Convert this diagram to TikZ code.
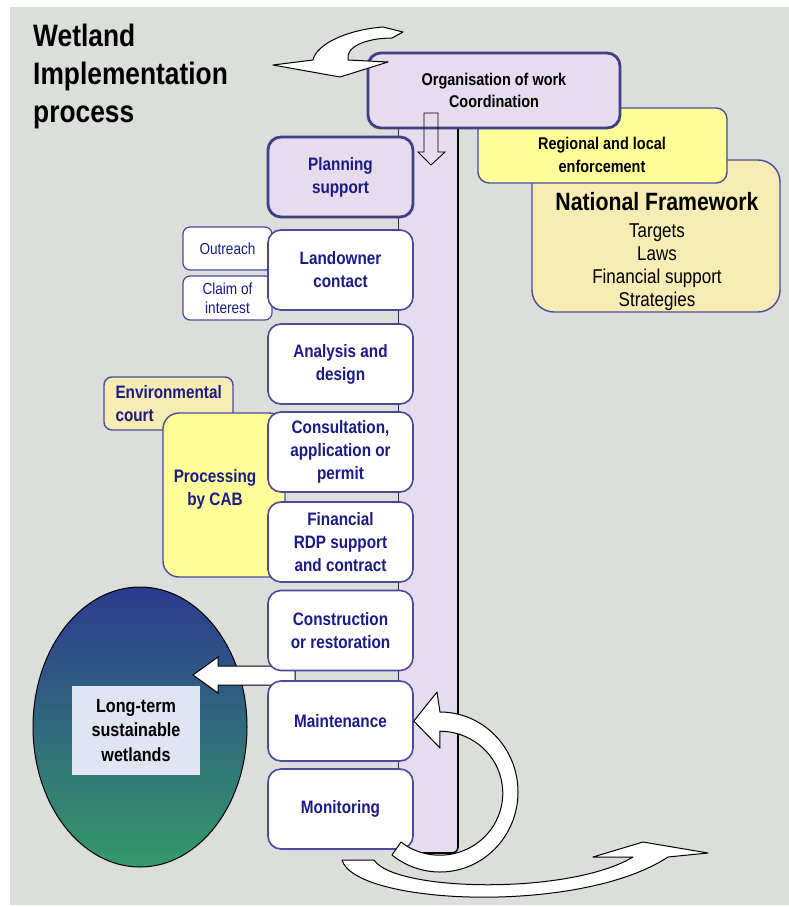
\documentclass[tikz,border=0pt]{standalone}
\usepackage{fontspec}
\setmainfont{Liberation Sans}[FakeStretch=0.85]
\usetikzlibrary{shapes.geometric}
\definecolor{PanelGray}{HTML}{DCDEDC}
\definecolor{StepLilac}{HTML}{E6DCEE}
\definecolor{StepBlue}{HTML}{4A4A9C}
\definecolor{StepText}{HTML}{1B1B87}
\definecolor{AuthYellow}{HTML}{FFFF99}
\definecolor{FrameCream}{HTML}{F6ECB4}
\definecolor{WetBlue}{HTML}{2C3A8F}
\definecolor{WetGreen}{HTML}{35996A}
\definecolor{LabelBlue}{HTML}{DFE5F1}
\tikzset{
  stepbox/.style={draw=StepBlue, line width=1.6pt, fill=white, rounded corners=13pt, minimum width=145pt,
    minimum height=80pt, inner sep=0pt, align=center, text=StepText, font=\fontsize{18}{23}\selectfont\bfseries},
  leadbox/.style={stepbox, fill=StepLilac, line width=2.8pt, draw=StepBlue!85!black},
  sidebox/.style={draw=StepBlue, line width=1.2pt, fill=white, rounded corners=7pt, inner sep=0pt,
    minimum width=89pt, align=center, text=StepText, font=\fontsize{16}{19}\selectfont},
  authbox/.style={draw=StepBlue, line width=1.4pt},
  blockarrow/.style={draw=black, line width=1pt, fill=white, line join=round},
}
\begin{document}
\begin{tikzpicture}[x=1pt,y=-1pt]
  \useasboundingbox (0,0) rectangle (789,907);
  \fill[PanelGray] (10,7) rectangle (789,905);
  \node[anchor=north west, inner sep=0pt, align=left, font=\fontsize{31}{38}\selectfont\bfseries] (title) at (33,24) {Wetland\\Implementation\\process};
  % spine behind the steps
  \fill[StepLilac] (398,110) rectangle (458,853);
  \draw[StepBlue!60!black, line width=0.8pt] (398,110) -- (398,853);
  \draw[line width=1.6pt, rounded corners=6pt] (458,110) -- (458,853) -- (398,853);
  % frameworks
  \draw[authbox, fill=FrameCream, rounded corners=22pt] (532,160) rectangle (780,312);
  \node[align=center, font=\fontsize{20}{23}\selectfont] (national) at (657,252) {{\fontsize{25}{27}\selectfont\bfseries National Framework}\\[4pt]Targets\\Laws\\Financial support\\Strategies};
  \draw[authbox, fill=AuthYellow, rounded corners=11pt] (478,108) rectangle (727,183);
  \node[align=center, font=\fontsize{17}{23}\selectfont\bfseries] (regional) at (602,155) {Regional and local\\enforcement};
  \node[leadbox, minimum width=252pt, minimum height=75pt, text=black, font=\fontsize{17}{22}\selectfont\bfseries] (org) at (494,90.5) {Organisation of work\\Coordination};
  \draw[line width=0.9pt, line join=miter] (424,113) -- (438,113) -- (438,152) -- (445,152) -- (431,165) -- (418,152) -- (424,152) -- cycle;
  \draw[blockarrow] (273,65) -- (313,60) .. controls (316,45) and (345,30) .. (383,27) -- (403,32) -- (392,38)
    .. controls (368,38) and (345,46) .. (348,60) -- (388,62) -- (340,77) -- cycle;
  % permit authorities
  \draw[authbox, fill=FrameCream, rounded corners=8pt] (104,377) rectangle (233,430);
  \node[anchor=west, align=left, text=StepText, font=\fontsize{18}{23}\selectfont\bfseries] (court) at (112,403.5) {Environmental\\court};
  \draw[authbox, fill=AuthYellow, rounded corners=16pt] (163,413) rectangle (285,577);
  \node[align=center, text=StepText, font=\fontsize{18}{23}\selectfont\bfseries] (cab) at (215,489) {Processing\\by CAB};
  % outcome
  \node[ellipse, draw, line width=1pt, top color=WetBlue, bottom color=WetGreen, minimum width=214pt, minimum height=280pt] (wetland) at (140,727) {};
  \node[fill=LabelBlue, minimum width=128pt, minimum height=89pt, inner sep=0pt, align=center, font=\fontsize{19}{24.5}\selectfont\bfseries] (wetlabel) at (136,730.5) {Long-term\\sustainable\\wetlands};
  \draw[blockarrow, line join=miter] (295,666) -- (218,666) -- (218,657) -- (193,675) -- (218,693) -- (218,685) -- (295,685) -- cycle;
  % steps
  \node[sidebox, minimum height=43pt] (outreach) at (227.5,248.5) {Outreach};
  \node[sidebox, minimum height=44pt] (claim) at (227.5,298) {Claim of\\interest};
  \node[leadbox] (plan) at (340.5,177) {Planning\\support};
  \node[stepbox] (land) at (340.5,270) {Landowner\\contact};
  \node[stepbox] (anal) at (340.5,364) {Analysis and\\design};
  \node[stepbox] (cons) at (340.5,452) {Consultation,\\application or\\permit};
  \node[stepbox] (fin) at (340.5,542) {Financial\\RDP support\\and contract};
  \node[stepbox] (constr) at (340.5,630.5) {Construction\\or restoration};
  \node[stepbox] (maint) at (340.5,721) {Maintenance};
  \node[stepbox] (monit) at (340.5,809) {Monitoring};
  % feedback loops
  \draw[blockarrow] (342,860) .. controls (355,905) and (580,915) .. (668,857) -- (708,853) -- (643,842) -- (593,857) -- (633,857) .. controls (570,895) and (395,892) .. (374,860) -- cycle;
  \draw[blockarrow] (440,712) arc[start angle=-90, end angle=128, x radius=78, y radius=80] -- ++(9,-13)
    arc[start angle=128, end angle=-90, x radius=63, y radius=62] -- (440,748) -- (maint.east) -- (437,692) -- cycle;
\end{tikzpicture}
\end{document}
